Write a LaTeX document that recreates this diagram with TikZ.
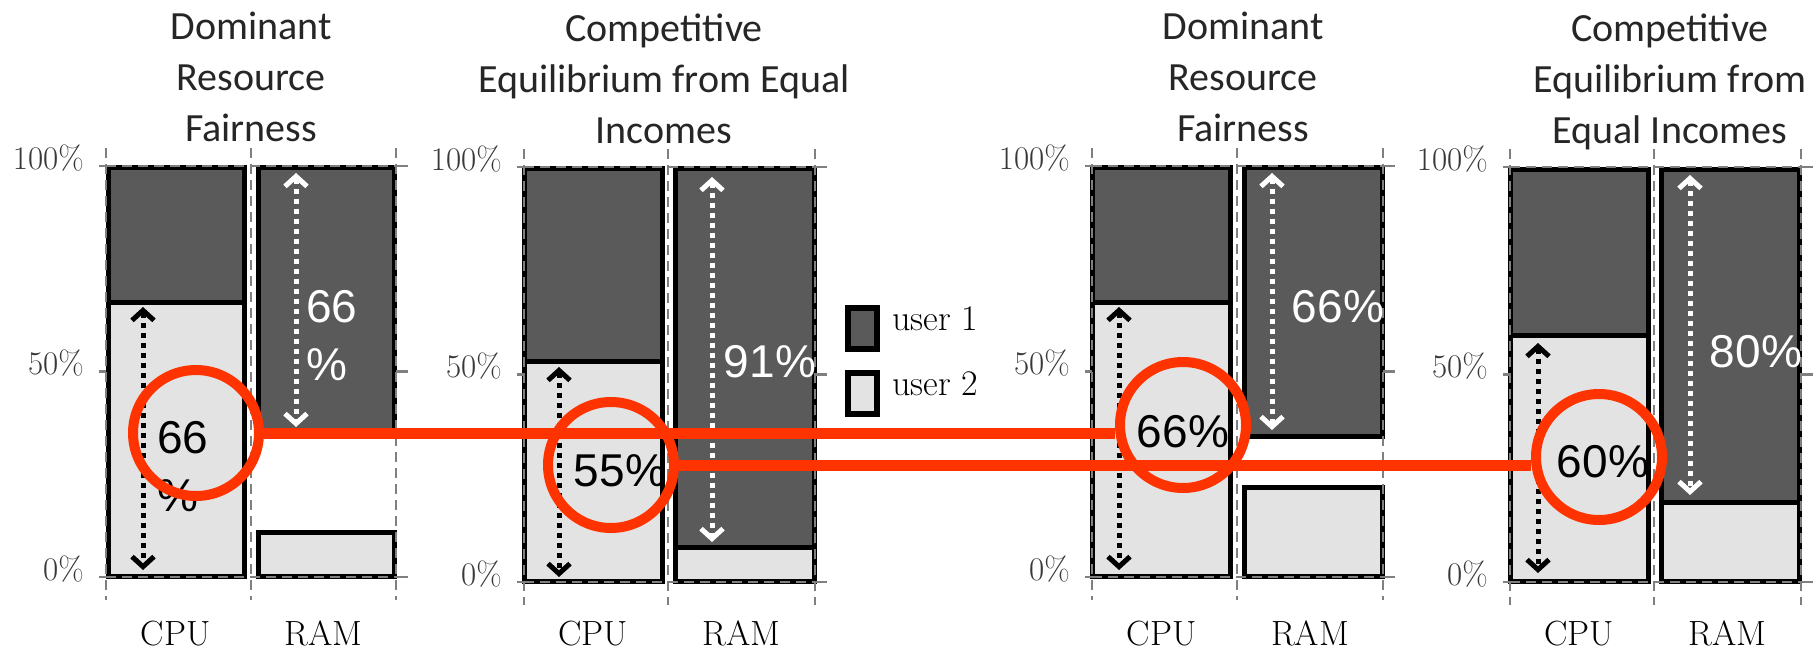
\documentclass[tikz,border=0pt]{standalone}
\usepackage{fontspec}
\newfontfamily\titlefont{Carlito}
\newfontfamily\numfont{Liberation Sans}
\usetikzlibrary{arrows.meta}

\definecolor{userone}{HTML}{5A5A5A}
\definecolor{usertwo}{HTML}{E3E3E3}
\definecolor{gridgray}{HTML}{808080}
\definecolor{ticktext}{HTML}{383838}
\definecolor{titletext}{HTML}{262626}
\definecolor{hilite}{RGB}{255,51,0}

\tikzset{
  darkseg/.style={draw=black, line width=5pt, fill=userone},
  lightseg/.style={draw=black, line width=5pt, fill=usertwo},
  gridline/.style={draw=gridgray, line width=2.5pt, dash pattern=on 10pt off 6pt},
  axistick/.style={draw=gridgray, line width=2.5pt},
  ticklabel/.style={font=\fontsize{33}{33}\selectfont, text=ticktext, anchor=east, inner sep=0pt},
  axislabel/.style={font=\fontsize{35}{35}\selectfont, anchor=base, inner sep=0pt},
  paneltitle/.style={font=\titlefont\fontsize{40}{51}\selectfont, text=titletext, align=center, anchor=base, inner sep=0pt},
  pct/.style={font=\numfont\fontsize{46}{58}\selectfont, inner sep=0pt},
  spanarrow/.style={line width=5pt, dash pattern=on 5pt off 5pt,
    {Straight Barb[length=10pt,width=22pt]}-{Straight Barb[length=10pt,width=22pt]}},
  ring/.style={circle, draw=hilite, line width=10pt, minimum size=126pt, inner sep=0pt},
  linkline/.style={draw=hilite, line width=11pt},
  legendbox/.style={draw=black, line width=6pt},
  legendtext/.style={font=\fontsize{36}{36}\selectfont, anchor=base west, inner sep=0pt},
}

% gridlines, ticks, tick labels and column labels of one chart
% #1 left, #2 middle, #3 right, #4 top (100%), #5 bottom (0%), #6 name prefix
\newcommand\panelframe[6]{%
  \pgfmathsetmacro\midy{(#4+#5)/2}
  \pgfmathsetmacro\cpux{(#1+#2)/2-3}
  \pgfmathsetmacro\ramx{(#2+#3)/2}
  \foreach \gx in {#1,#2,#3}{\draw[gridline] (\gx,#4-18) -- (\gx,#5+23);}
  \draw[gridline] (#1,#4) -- (#3,#4);
  \draw[gridline] (#1,#5) -- (#3,#5);
  \foreach \gy in {#4,\midy,#5}{%
    \draw[axistick] (#1-7,\gy) -- (#1,\gy);
    \draw[axistick] (#3,\gy) -- (#3+12,\gy);
  }
  \node[ticklabel] (#6top) at (#1-22,#4-8) {100\%};
  \node[ticklabel] (#6mid) at (#1-22,\midy-8) {50\%};
  \node[ticklabel] (#6bot) at (#1-22,#5-8) {0\%};
  \node[axislabel] (#6cpu) at (\cpux,645) {CPU};
  \node[axislabel] (#6ram) at (\ramx,645) {RAM};
}

\begin{document}
\begin{tikzpicture}[x=1pt, y=-1pt]
\useasboundingbox[fill=white] (0,0) rectangle (1818,650);

% stacked bars: user 1 on top, user 2 at the bottom
\path[darkseg]  (108.5,167.5) rectangle (244.5,302);
\path[lightseg] (108.5,302)   rectangle (244.5,576.5);
\path[darkseg]  (258.5,167.5) rectangle (394.5,435);
\path[lightseg] (258.5,532)   rectangle (394.5,576.5);

\path[darkseg]  (524.5,168.5) rectangle (662.5,361);
\path[lightseg] (524.5,361)   rectangle (662.5,581.5);
\path[darkseg]  (675.5,168.5) rectangle (814.5,547);
\path[lightseg] (675.5,547)   rectangle (814.5,581.5);

\path[darkseg]  (1092.5,167.5) rectangle (1230.5,302);
\path[lightseg] (1092.5,302)   rectangle (1230.5,576.5);
\path[darkseg]  (1244.5,167.5) rectangle (1382.5,436);
\path[lightseg] (1244.5,487)   rectangle (1382.5,576.5);

\path[darkseg]  (1510.5,169.5) rectangle (1648.5,335);
\path[lightseg] (1510.5,335)   rectangle (1648.5,581.5);
\path[darkseg]  (1661.5,169.5) rectangle (1799.5,502);
\path[lightseg] (1661.5,502)   rectangle (1799.5,581.5);

% axes frames
\panelframe{106}{251}{396}{166}{577}{a}
\panelframe{524}{668}{815}{167}{582}{b}
\panelframe{1092}{1237}{1383}{166}{577}{c}
\panelframe{1510}{1654}{1801}{167}{582}{d}

% share arrows
\draw[spanarrow, black] (143,307) -- (143,570);
\draw[spanarrow, white] (296,173) -- (296,427);
\draw[spanarrow, black] (559,367) -- (559,577);
\draw[spanarrow, white] (712,177) -- (712,542);
\draw[spanarrow, black] (1119,307) -- (1119,570);
\draw[spanarrow, white] (1272,173) -- (1272,430);
\draw[spanarrow, black] (1538,343) -- (1538,573);
\draw[spanarrow, white] (1690,175) -- (1690,495);

% share values
\node[pct, anchor=west, align=left] (apct) at (157,467) {66\\\%};
\node[pct, anchor=west, align=left, text=white] (aram) at (306,336) {66\\\%};
\node[pct] (bpct) at (620,471) {55\%};
\node[pct, text=white] (bram) at (770,362) {91\%};
\node[pct] (cpct) at (1183,432) {66\%};
\node[pct, text=white] (cram) at (1338,307) {66\%};
\node[pct] (dpct) at (1603,462) {60\%};
\node[pct, text=white] (dram) at (1756,352) {80\%};

% legend
\path[legendbox, fill=userone] (848,308) rectangle (877,349);
\node[legendtext] (leg1) at (892,330) {user 1};
\path[legendbox, fill=usertwo] (848,373) rectangle (877,414);
\node[legendtext] (leg2) at (892,395) {user 2};

% titles (anchored at the baseline of their last line)
\node[paneltitle] (t1) at (251,142) {Dominant\\Resource\\Fairness};
\node[paneltitle] (t2) at (664,143) {Competitive\\Equilibrium from Equal\\Incomes};
\node[paneltitle] (t3) at (1243,142) {Dominant\\Resource\\Fairness};
\node[paneltitle] (t4) at (1670,143) {Competitive\\Equilibrium from\\Equal Incomes};

% highlighted CPU shares and their comparison lines
\node[ring] (r1) at (196,433) {};
\node[ring] (r2) at (611,465) {};
\node[ring] (r3) at (1183,425) {};
\node[ring] (r4) at (1599,457) {};
\draw[linkline] (r1.east) -- (r1.east -| r3.west);
\draw[linkline] (r2.east) -- (r2.east -| r4.west);
\end{tikzpicture}
\end{document}
